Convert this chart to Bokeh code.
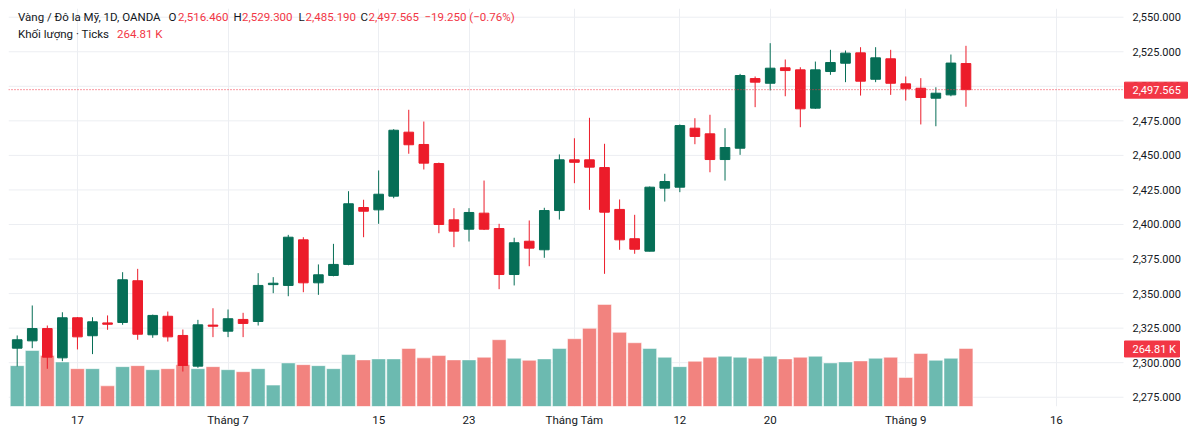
import numpy as np
from bokeh.plotting import figure
from bokeh.models import Range1d, FixedTicker, Label, ColumnDataSource
from bokeh.core.properties import field, value
from bokeh.embed import file_html
from bokeh.resources import INLINE

# ---------------- data ----------------
opens = [2310.5, 2315.8, 2324.7, 2303.5, 2332.5, 2319.5, 2328.8, 2329.1, 2359.3, 2320.2,
         2333.6, 2319.7, 2297.5, 2327.2, 2322.8, 2331.3, 2329.8, 2356.5, 2355.9, 2388.9,
         2357.8, 2363.1, 2371.1, 2412.3, 2410.6, 2420.5, 2466.8, 2457.9, 2444.1, 2403.4,
         2396.6, 2408.2, 2397.1, 2363.8, 2387.9, 2381.7, 2410.1, 2446.8, 2446.8, 2441.2,
         2410.9, 2389.7, 2380.7, 2426.3, 2427.0, 2469.7, 2465.6, 2447.0, 2455.2, 2505.6,
         2502.2, 2513.4, 2511.9, 2484.2, 2510.7, 2516.7, 2524.2, 2505.1, 2519.9, 2501.8,
         2498.6, 2491.4, 2493.8, 2516.46]
highs = [2319.7, 2341.4, 2326.9, 2336.5, 2333.0, 2332.9, 2334.2, 2365.5, 2367.9, 2334.8,
         2337.0, 2324.0, 2331.0, 2339.4, 2338.5, 2336.1, 2364.8, 2361.9, 2392.5, 2390.8,
         2371.1, 2386.0, 2424.1, 2417.9, 2439.1, 2469.0, 2483.0, 2474.5, 2444.8, 2411.8,
         2411.8, 2431.8, 2400.5, 2390.4, 2402.9, 2412.1, 2450.7, 2462.4, 2477.2, 2458.4,
         2418.1, 2407.0, 2427.5, 2436.7, 2472.4, 2476.9, 2479.4, 2469.7, 2509.0, 2507.1,
         2531.2, 2519.4, 2513.8, 2517.9, 2526.4, 2525.9, 2528.3, 2528.3, 2526.4, 2507.1,
         2505.9, 2499.3, 2523.0, 2529.3]
lows = [2297.3, 2310.5, 2295.6, 2301.1, 2309.6, 2306.2, 2323.8, 2327.4, 2316.6, 2318.0,
        2315.3, 2293.6, 2296.3, 2318.5, 2318.5, 2318.5, 2326.9, 2350.3, 2348.1, 2351.0,
        2349.1, 2362.5, 2370.5, 2390.8, 2400.5, 2419.0, 2451.2, 2439.8, 2393.7, 2383.6,
        2387.7, 2396.0, 2353.2, 2355.9, 2369.8, 2375.9, 2403.6, 2429.9, 2410.6, 2364.3,
        2381.7, 2378.8, 2380.5, 2416.6, 2423.4, 2458.1, 2437.8, 2431.8, 2450.4, 2484.9,
        2497.0, 2492.8, 2470.4, 2483.7, 2508.3, 2503.0, 2493.3, 2503.0, 2493.8, 2489.7,
        2472.4, 2471.1, 2492.8, 2485.19]
closes = [2316.6, 2324.7, 2304.0, 2332.5, 2318.7, 2329.6, 2327.8, 2360.0, 2320.6, 2334.2,
          2318.7, 2298.0, 2327.4, 2326.4, 2331.8, 2328.4, 2355.9, 2357.5, 2390.8, 2357.8,
          2363.6, 2371.1, 2415.0, 2409.6, 2421.9, 2468.2, 2457.7, 2444.4, 2400.0, 2395.2,
          2408.7, 2396.6, 2363.8, 2386.8, 2382.9, 2410.1, 2446.8, 2445.0, 2441.5, 2408.9,
          2388.9, 2382.1, 2427.0, 2431.1, 2471.6, 2463.7, 2447.0, 2455.7, 2507.8, 2503.0,
          2513.1, 2511.4, 2483.7, 2511.9, 2517.2, 2524.0, 2503.7, 2520.6, 2502.2, 2498.2,
          2491.9, 2495.0, 2516.815, 2497.565]
volumes_k = [186.5, 255.6, 232.6, 203.5, 172.7, 172.7, 94.4, 181.9, 186.5, 168.1,
             172.7, 191.1, 172.7, 181.9, 168.1, 158.9, 172.7, 97.6, 198.9, 191.1,
             186.5, 172.7, 237.2, 212.8, 217.4, 217.4, 264.8, 222.0, 232.6, 212.8,
             212.8, 224.7, 304.9, 220.1, 210.9, 217.4, 264.8, 309.5, 356.9, 466.0,
             338.5, 291.0, 264.8, 224.7, 181.9, 206.3, 224.7, 229.3, 224.7, 220.1,
             229.3, 217.4, 224.7, 229.3, 198.9, 203.5, 208.1, 220.1, 224.7, 132.6,
             241.8, 210.9, 220.1, 264.81]
price_ticks = [2275, 2300, 2325, 2350, 2375, 2400, 2425, 2450, 2475, 2500, 2525, 2550]
time_tick_idx = [4, 14, 24, 30, 37, 44, 50, 59, 69]
time_tick_labels = ["17", "Tháng 7", "15", "23", "Tháng Tám", "12", "20", "Tháng 9", "16"]
last_price = 2497.565
last_volume_k = 264.81

# ---------------- layout ----------------
W, H = 1200, 436
BL, BR, BT, BB = 8, 8, 8, 30
FW, FH = W - BL - BR, H - BT - BB
PITCH, FIRST = 15.06, 16.7           # px per bar, px of first bar centre
X0 = (BL - FIRST) / PITCH
X1 = (W - BR - FIRST) / PITCH
Y0, Y1 = 2268.3, 2556.3
VMAX = 1817

GREEN, RED = "#066e56", "#ec1c2a"
VGREEN, VRED = "#6cbab0", "#f2837f"
TXT = "#131722"
LRED = "#f23645"
GRID = "#eceef2"
FONT = "Roboto"


def dx(px):
    return X0 + (px - BL) * (X1 - X0) / FW


def dy(py):
    return Y1 - (py - BT) * (Y1 - Y0) / FH


PU = (Y1 - Y0) / FH   # price units per px
VU = VMAX / FH        # volume units per px
XG = dx(1123)        # end of the chart pane / start of the price scale
XL = dx(1132)        # price-scale label start
BOX_L, BOX_R = dx(1124), dx(1187)
VBOX_R = dx(1179)

idx = list(range(len(opens)))
up = [c >= o for o, c in zip(opens, closes)]
src = ColumnDataSource(dict(
    i=idx, o=opens, h=highs, l=lows, c=closes,
    top=[max(o, c) for o, c in zip(opens, closes)],
    bot=[min(o, c) for o, c in zip(opens, closes)],
    col=[GREEN if u else RED for u in up],
    vcol=[VGREEN if u else VRED for u in up],
    vol=volumes_k,
))

p = figure(width=W, height=H, x_range=Range1d(X0, X1), y_range=Range1d(Y0, Y1),
           output_backend="svg", toolbar_location=None, y_axis_location="right",
           min_border_left=BL, min_border_right=BR, min_border_top=BT, min_border_bottom=BB)
p.extra_y_ranges = {"vol": Range1d(0, VMAX)}
p.outline_line_color = None
p.background_fill_color = "white"
p.border_fill_color = "white"
p.yaxis.visible = False
p.ygrid.visible = False

xt = FixedTicker(ticks=time_tick_idx)
p.xaxis.ticker = xt
p.xgrid.ticker = xt
p.xaxis.major_label_overrides = {i: s for i, s in zip(time_tick_idx, time_tick_labels)}
p.xaxis.axis_line_color = None
p.xaxis.major_tick_line_color = None
p.xaxis.minor_tick_line_color = None
p.xaxis.major_tick_out = 0
p.xaxis.major_tick_in = 0
p.xaxis.minor_tick_out = 0
p.xaxis.major_label_text_font = FONT
p.xaxis.major_label_text_font_size = "11.5px"
p.xaxis.major_label_text_color = TXT
p.xaxis.major_label_standoff = 6
p.xgrid.grid_line_color = GRID
p.xgrid.grid_line_width = 1

# horizontal grid lines of the price pane
p.segment(x0=X0, x1=XG, y0=price_ticks, y1=price_ticks, line_color=GRID, line_width=1)

# volume
p.vbar(x="i", top="vol", bottom=0, width=0.92, y_range_name="vol", source=src,
       fill_color=field("vcol"), line_color="white", line_alpha=0.5, line_width=1)

# candles
p.segment(x0="i", y0="l", x1="i", y1="h", source=src, line_color=field("col"), line_width=1)
p.vbar(x="i", top="top", bottom="bot", width=0.64, source=src,
       fill_color=field("col"), line_color=field("col"), line_width=1)

# last price line
p.segment(x0=[X0], x1=[XG], y0=[last_price], y1=[last_price], line_color=LRED,
          line_dash="1 2", line_width=1, line_alpha=1.0)

# price scale labels
p.text(x=[XL] * len(price_ticks), y=price_ticks, text=[f"{t:,.3f}" for t in price_ticks],
       text_font=value(FONT), text_font_size=value("11px"), text_color=TXT,
       text_baseline="middle", text_align="left")

# price-scale boxes (last price, last volume)
p.quad(left=[BOX_L], right=[BOX_R], bottom=[last_price - 8.5 * PU],
       top=[last_price + 7.5 * PU], fill_color=LRED, line_color=LRED)
p.text(x=[XL], y=[last_price - 0.8 * PU], text=[f"{last_price:,.3f}"], text_font=value(FONT),
       text_font_size=value("11px"), text_color="white", text_baseline="middle", text_align="left")
p.quad(left=[BOX_L], right=[VBOX_R], bottom=[last_volume_k - 8.5 * VU],
       top=[last_volume_k + 7.5 * VU], fill_color=LRED, line_color=LRED, y_range_name="vol")
p.text(x=[XL], y=[last_volume_k - 0.8 * VU], text=[f"{last_volume_k:.2f} K"],
       text_font=value(FONT), text_font_size=value("11px"), text_color="white",
       text_baseline="middle", text_align="left", y_range_name="vol")

# legend text
chg = closes[-1] - closes[-2]
pct = chg / closes[-2] * 100
seg1 = [
    ("Vàng / Đô la Mỹ, 1D, OANDA", 17.5, TXT),
    ("O", 168, TXT), (f"{opens[-1]:,.3f}", 177.5, LRED),
    ("H", 233, TXT), (f"{highs[-1]:,.3f}", 241.5, LRED),
    ("L", 298, TXT), (f"{lows[-1]:,.3f}", 305, LRED),
    ("C", 360, TXT), (f"{closes[-1]:,.3f}", 368, LRED),
    (f"\u2212{abs(chg):.3f} (\u2212{abs(pct):.2f}%)", 424, LRED),
]
seg2 = [
    ("Khối lượng · Ticks", 17.5, TXT),
    (f"{last_volume_k:.2f} K", 116.5, LRED),
]
for segs, py in ((seg1, 16.5), (seg2, 33.0)):
    for t, px, col in segs:
        p.add_layout(Label(x=dx(px), y=dy(py), text=t, text_font=FONT,
                           text_font_size="11.5px", text_color=col,
                           text_baseline="middle", text_align="left"))

open("out.html", "w").write(file_html(p, INLINE))
